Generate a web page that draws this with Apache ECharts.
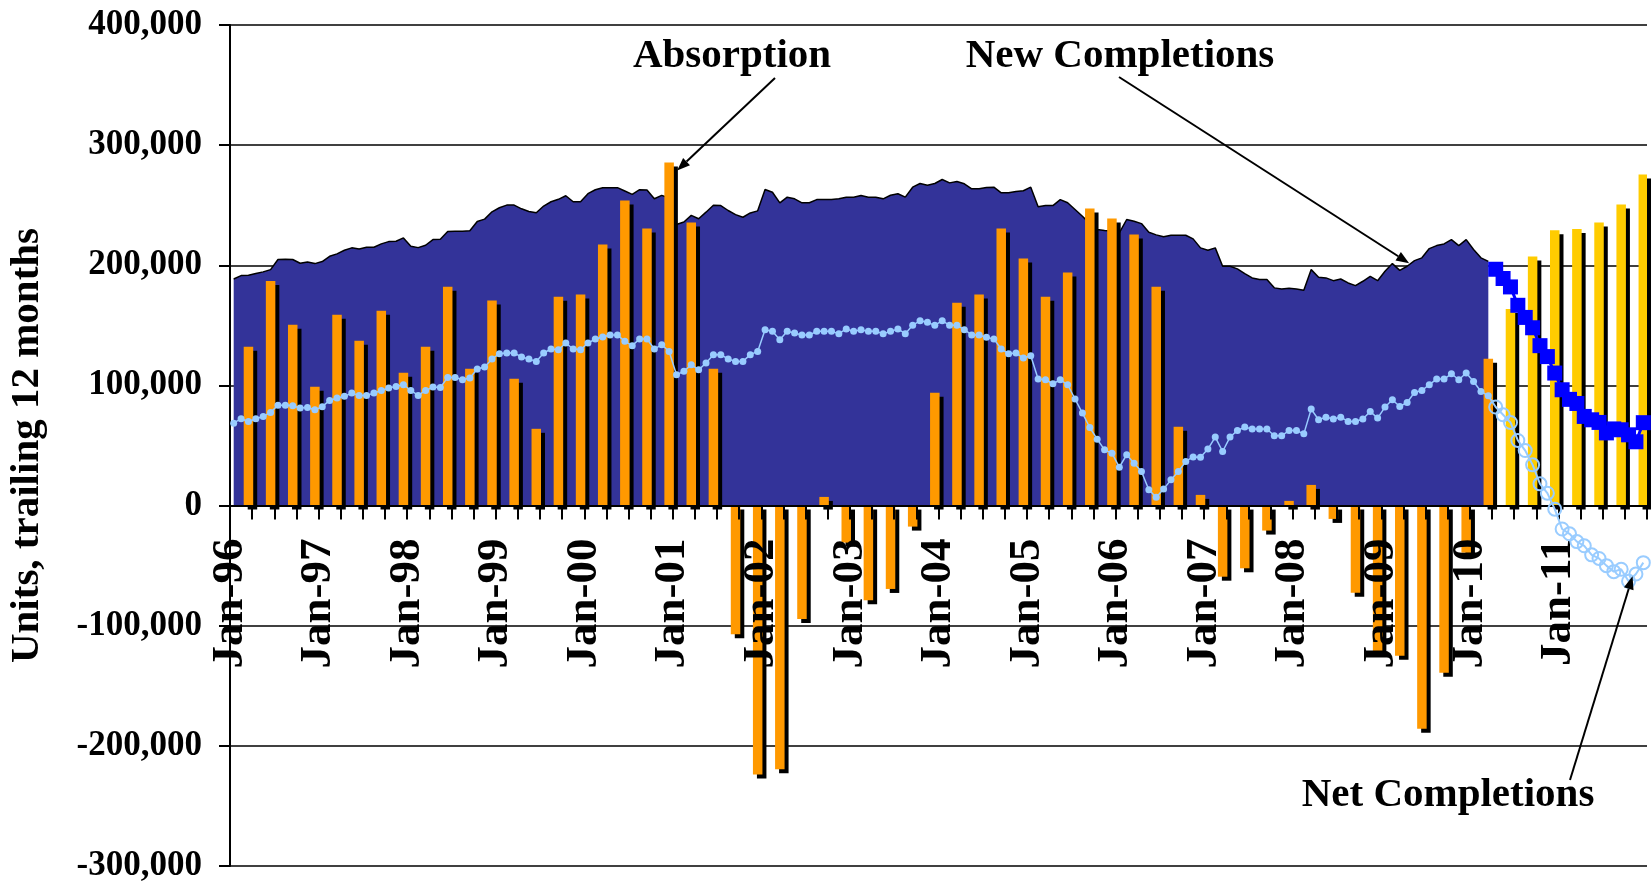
<!DOCTYPE html>
<html>
<head>
<meta charset="utf-8">
<title>Multifamily completions and absorption</title>
<script src="https://cdn.jsdelivr.net/npm/echarts@6/dist/echarts.min.js"></script>
<style>
  html, body { margin: 0; padding: 0; background: #fff; }
  #chart { width: 1652px; height: 887px; }
</style>
</head>
<body>
<div id="chart"></div>
<script>
// Trailing-12-month totals, in thousands of units.

// New completions, monthly Jan-96 .. Mar-10
const newCompletions = [
  188.6,191.4,191.7,193.1,194.5,196.4,204.8,205.1,204.8,201.7,202.8,201.4,
  203.1,207.5,209.5,212.5,214.5,213.6,215.0,215.0,217.8,219.7,220.0,222.8,
  215.8,214.7,216.7,221.4,221.7,228.1,228.4,228.4,228.7,236.5,238.4,244.5,
  247.9,250.1,250.1,247.0,244.8,243.7,249.3,252.9,254.9,257.9,252.9,252.9,
  259.6,262.9,264.6,264.6,264.6,261.8,259.0,262.9,262.7,255.4,258.2,256.0,
  234.0,236.0,241.5,238.7,244.2,250.0,249.7,245.6,242.2,240.0,243.6,245.3,
  263.1,260.8,252.0,256.7,255.3,252.0,252.0,254.7,254.7,254.7,255.3,256.7,
  256.7,258.1,256.7,256.7,255.3,258.3,259.5,256.7,265.0,268.1,266.7,268.1,
  271.4,268.6,269.7,267.8,263.7,263.7,264.8,265.0,260.3,260.3,261.4,262.0,
  265.0,248.7,249.7,249.7,254.7,252.0,246.4,240.8,234.7,229.7,228.9,228.6,
  227.0,238.1,236.7,234.7,227.5,225.3,223.7,225.0,225.0,225.0,222.0,214.5,
  212.5,214.5,199.2,199.2,197.0,193.1,189.5,188.1,188.1,181.2,180.3,180.9,
  180.3,179.2,196.4,190.0,189.5,187.2,188.6,185.3,183.1,186.7,190.8,187.2,
  195.0,201.4,195.8,199.2,203.9,206.2,213.9,216.4,217.8,221.4,216.4,221.4,
  213.1,206.2,203.3
];
// New completions forecast, monthly Apr-10 .. Dec-11
const newCompletionsForecast = [
  196.7,189.0,182.0,166.7,156.6,148.0,133.1,124.0,110.3,96.4,88.4,
  85.0,74.2,71.4,69.2,60.5,63.8,63.1,58.9,53.1,69.0
];

// Net completions, monthly Jan-96 .. Mar-10
const netCompletions = [
  68.6,72.3,70.0,72.3,74.2,77.5,83.6,83.6,83.0,81.2,81.7,79.7,
  82.3,87.5,89.5,90.9,93.6,91.7,91.7,93.6,95.8,97.8,99.2,100.6,
  95.8,91.7,95.8,98.6,98.3,106.7,106.7,104.7,106.1,113.6,115.3,122.0,
  126.4,127.0,127.0,123.7,122.0,120.0,127.0,130.3,129.7,135.3,130.3,129.7,
  135.3,138.6,140.3,142.0,142.0,136.7,133.1,138.6,138.6,130.3,133.9,128.3,
  108.9,111.7,117.2,113.1,118.6,125.6,125.6,122.0,120.0,120.0,125.6,128.3,
  146.4,145.0,138.1,145.0,143.6,142.0,142.0,145.0,145.0,145.0,143.1,147.0,
  145.0,146.4,145.0,145.0,143.1,145.0,147.0,143.1,150.0,153.9,152.5,150.0,
  153.9,150.0,150.0,146.4,142.0,142.0,140.0,138.6,130.3,126.4,127.0,122.8,
  124.7,105.3,104.7,101.4,104.7,100.6,88.7,77.0,65.0,55.3,46.4,43.6,
  32.0,42.3,35.3,28.3,13.1,7.0,13.7,21.4,28.3,36.7,40.5,40.3,
  47.0,57.0,45.0,57.0,62.5,65.3,63.7,63.7,63.7,58.1,58.1,62.5,
  62.5,59.7,80.3,71.4,73.6,72.0,73.6,70.0,70.0,72.0,78.3,72.8,
  82.0,88.1,82.5,85.8,94.2,95.8,100.6,105.3,105.3,109.7,104.7,110.3,
  103.3,95.0,91.4
];
// Net completions forecast, monthly Apr-10 .. Dec-11
const netCompletionsForecast = [
  82.0,75.6,69.2,54.2,45.8,33.9,18.1,10.3,-3.0,-19.5,-23.5,
  -30.0,-33.5,-41.0,-44.0,-50.0,-55.0,-53.0,-63.0,-57.0,-47.5
];

// Absorption, quarterly Q1-96 .. Q1-10
const absorption = [
  132.2,187.0,150.6,98.9,  158.9,137.2,162.2,110.6,  132.2,182.2,113.9,170.6,
  105.6,63.9,173.9,175.6,  217.2,253.9,230.6,285.6,  235.6,113.9,-107.2,-223.8,
  -219.4,-94.4,7.2,-30.8,  -78.8,-69.4,-17.5,93.9,   168.9,175.6,230.6,205.6,
  173.9,193.9,247.2,238.9, 225.6,182.2,65.6,8.9,     -59.2,-52.2,-20.8,3.9,
  17.2,-11.1,-72.5,-122.2, -125.0,-185.8,-139.2,-39.2, 122.2
];
// Absorption forecast, quarterly Q2-10 .. Q4-11
const absorptionForecast = [163.7,207.3,229.2,230.3,235.6,250.6,275.6];

// Axis tick labels (one per year)
const yearLabels = ['Jan-96','Jan-97','Jan-98','Jan-99','Jan-00','Jan-01','Jan-02','Jan-03',
                    'Jan-04','Jan-05','Jan-06','Jan-07','Jan-08','Jan-09','Jan-10','Jan-11'];
const yTickValues = [-300, -200, -100, 0, 100, 200, 300, 400];

const SERIF = '"Liberation Serif", "Times New Roman", serif';
const MONTHS = ['Jan','Feb','Mar','Apr','May','Jun','Jul','Aug','Sep','Oct','Nov','Dec'];

// Monthly categories Jan-96 .. Dec-11 (data positions)
const months = [];
for (let y = 1996; y <= 2011; y++) {
  for (let m = 0; m < 12; m++) months.push(MONTHS[m] + '-' + String(y % 100).padStart(2, '0'));
}
// Month boundaries Jan-96 .. Jan-12 (tick and label positions)
const boundaries = months.concat(['Jan-12']);

const N = months.length;
const nullsTo = (n) => new Array(n).fill(null);

const histLen = newCompletions.length;            // 171 months
const areaData = newCompletions.concat(nullsTo(N - histLen));
const squareData = nullsTo(histLen).concat(newCompletionsForecast);
const netData = netCompletions.concat(nullsTo(N - histLen));
const netForecastData = nullsTo(histLen - 1)
  .concat([{ value: netCompletions[histLen - 1], symbol: 'none' }])
  .concat(netCompletionsForecast);

// Quarterly absorption sits on the last month of each quarter
const barData = nullsTo(N);
absorption.forEach((v, q) => {
  barData[q * 3 + 2] = { value: v, itemStyle: { color: '#FF9900' } };
});
absorptionForecast.forEach((v, k) => {
  const q = absorption.length + k;
  barData[q * 3 + 2] = { value: v, itemStyle: { color: '#FFCC00' } };
});

// Plot box
const GRID = { left: 230, right: 5, top: 25, bottom: 21 };
const CHART_H = 887;
const yMin = yTickValues[0], yMax = yTickValues[yTickValues.length - 1];
// Lift the month axis from the bottom edge up to the zero line
const plotH = CHART_H - GRID.top - GRID.bottom;
const zeroOffset = -plotH * (0 - yMin) / (yMax - yMin);

const chart = echarts.init(document.getElementById('chart'), null, { renderer: 'canvas' });

const option = {
  animation: false,
  backgroundColor: '#ffffff',
  grid: Object.assign({ containLabel: false, outerBoundsMode: 'none' }, GRID),
  xAxis: [
    {
      type: 'category',
      data: months,
      boundaryGap: true,
      show: false,
      axisLine: { onZero: false }
    },
    {
      type: 'category',
      data: boundaries,
      boundaryGap: false,
      position: 'bottom',
      offset: zeroOffset,
      z: 3,
      axisLine: { show: true, onZero: false, lineStyle: { color: '#000', width: 2 } },
      axisTick: {
        show: true,
        interval: (i) => i % 3 === 0,
        length: 14,
        lineStyle: { color: '#000', width: 2 }
      },
      axisLabel: {
        show: true,
        interval: (i) => i % 12 === 0 && i / 12 < yearLabels.length,
        formatter: (val, i) => yearLabels[Math.round(i / 12)] || '',
        rotate: 90,
        margin: 33,
        color: '#000',
        fontFamily: SERIF,
        fontWeight: 'bold',
        fontSize: 45
      },
      splitLine: { show: false }
    }
  ],
  yAxis: {
    type: 'value',
    min: yMin,
    max: yMax,
    interval: 100,
    name: 'Units, trailing 12 months',
    nameLocation: 'middle',
    nameGap: 182,
    nameTextStyle: { color: '#000', fontFamily: SERIF, fontWeight: 'bold', fontSize: 41 },
    axisLine: { show: true, lineStyle: { color: '#000', width: 2 } },
    axisTick: { show: true, length: 11, lineStyle: { color: '#000', width: 2 } },
    axisLabel: {
      margin: 28,
      color: '#000',
      fontFamily: SERIF,
      fontWeight: 'bold',
      fontSize: 35,
      formatter: (v) => (v === 0 ? '0' : v + ',000')
    },
    splitLine: { show: true, lineStyle: { color: '#000', width: 1.5 } }
  },
  series: [
    {
      name: 'New Completions',
      type: 'line',
      xAxisIndex: 0,
      data: areaData,
      symbol: 'none',
      lineStyle: { color: '#000', width: 1.5 },
      areaStyle: { color: '#333399', opacity: 1 },
      z: 1
    },
    {
      name: 'Absorption',
      type: 'bar',
      xAxisIndex: 0,
      data: barData,
      barWidth: 9.5,
      itemStyle: { shadowColor: '#000', shadowOffsetX: 4, shadowOffsetY: 4, shadowBlur: 0 },
      z: 2
    },
    {
      name: 'Net Completions',
      type: 'line',
      xAxisIndex: 0,
      data: netData,
      symbol: 'circle',
      symbolSize: 7,
      showAllSymbol: true,
      itemStyle: { color: '#99CCFF' },
      lineStyle: { color: '#99CCFF', width: 1.5 },
      z: 4
    },
    {
      name: 'Net Completions forecast',
      type: 'line',
      xAxisIndex: 0,
      data: netForecastData,
      symbol: 'circle',
      symbolSize: 13,
      showAllSymbol: true,
      itemStyle: { color: 'rgba(0,0,0,0)', borderColor: '#99CCFF', borderWidth: 2 },
      lineStyle: { color: '#99CCFF', width: 2 },
      z: 4
    },
    {
      name: 'New Completions forecast',
      type: 'line',
      xAxisIndex: 0,
      data: squareData,
      symbol: 'rect',
      symbolSize: 15,
      showAllSymbol: true,
      itemStyle: { color: '#0000FF' },
      lineStyle: { color: '#0000FF', width: 3 },
      z: 5
    }
  ]
};

chart.setOption(option);

// Annotation labels with arrows pointing at the series they name
function arrow(x1, y1, x2, y2) {
  const ang = Math.atan2(y2 - y1, x2 - x1);
  const len = 13, half = 5;
  const bx = x2 - len * Math.cos(ang), by = y2 - len * Math.sin(ang);
  const px = -Math.sin(ang) * half, py = Math.cos(ang) * half;
  return [
    { type: 'line', silent: true, z: 100,
      shape: { x1: x1, y1: y1, x2: bx, y2: by },
      style: { stroke: '#000', lineWidth: 2 } },
    { type: 'polygon', silent: true, z: 100,
      shape: { points: [[x2, y2], [bx + px, by + py], [bx - px, by - py]] },
      style: { fill: '#000' } }
  ];
}
function label(text, x, y) {
  return { type: 'text', silent: true, z: 100,
    style: { text: text, x: x, y: y, fill: '#000', align: 'center', verticalAlign: 'middle',
             font: 'bold 41px ' + SERIF } };
}
const toPx = (i, v) => chart.convertToPixel({ xAxisIndex: 0, yAxisIndex: 0 }, [i, v]);

const peakQ = 19;                                   // Q4-00 absorption bar
const absTip = toPx(peakQ * 3 + 2, absorption[peakQ]);
const ncIdx = 159;                                  // Apr-09 new completions
const ncTip = toPx(ncIdx, newCompletions[ncIdx]);
const netIdx = 189;                                 // Oct-11 net completions forecast
const netTip = toPx(netIdx, netCompletionsForecast[netIdx - histLen]);

chart.setOption({
  graphic: [
    label('Absorption', 732, 56),
    ...arrow(775, 78, absTip[0] + 8, absTip[1] + 8),
    label('New Completions', 1120, 56),
    ...arrow(1119, 77, ncTip[0] + 2, ncTip[1] - 3),
    label('Net Completions', 1448, 795),
    ...arrow(1570, 780, netTip[0] + 4, netTip[1] - 5)
  ]
});
</script>
</body>
</html>
